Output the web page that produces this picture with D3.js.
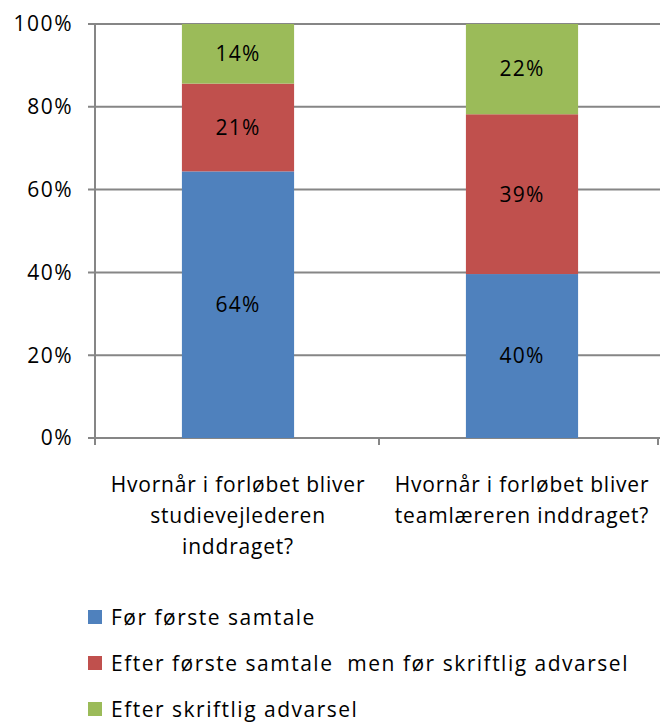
<!DOCTYPE html>
<html>
<head>
<meta charset="utf-8">
<script src="https://cdn.jsdelivr.net/npm/d3@7"></script>
<style>
  body { margin: 0; background: #fff; }
  svg text { font-family: "Open Sans", sans-serif; fill: #000; }
</style>
</head>
<body>
<svg id="chart" width="660" height="725"></svg>
<script>
// chart data
const categories = [
  ['Hvornår i forløbet bliver', 'studievejlederen', 'inddraget?'],
  ['Hvornår i forløbet bliver', 'teamlæreren inddraget?']
];
const seriesNames = ['Før første samtale', 'Efter første samtale  men før skriftlig advarsel', 'Efter skriftlig advarsel'];
const forSamtale = [64.4, 39.6];
const efterSamtale = [21.2, 38.6];
const efterAdvarsel = [14.4, 21.8];
const yTicks = [0, 20, 40, 60, 80, 100];
const colors = ['#4F81BD', '#C0504D', '#9BBB59'];

const svg = d3.select('#chart');
const plotLeft = 95, plotRight = 660, plotTop = 24, plotBottom = 438;
const fontSize = 21;

// the plot area runs a little past the right edge of the picture
const x = d3.scaleBand().domain([0, 1]).range([plotLeft + 1, plotRight + 4]).paddingInner(0).paddingOuter(0);
const y = d3.scaleLinear().domain([0, 100]).range([plotBottom, plotTop]);

// gridlines
svg.append('g').selectAll('line')
  .data(yTicks)
  .enter()
  .append('line')
  .attr('x1', plotLeft - 7)
  .attr('x2', plotRight)
  .attr('y1', d => y(d))
  .attr('y2', d => y(d))
  .attr('stroke', '#868686')
  .attr('stroke-width', 2);

// stacked bars
const rows = [0, 1].map(i => ({i: i, s0: forSamtale[i], s1: efterSamtale[i], s2: efterAdvarsel[i]}));
const stacked = d3.stack().keys(['s0', 's1', 's2'])(rows);
const barW = x.bandwidth() * 0.395;

stacked.forEach(function(layer, k){
  let g = svg.append('g');
  g.selectAll('rect')
    .data(layer)
    .enter()
    .append('rect')
    .attr('x', d => x(d.data.i) + (x.bandwidth() - barW) / 2)
    .attr('width', barW)
    .attr('y', d => y(d[1]))
    .attr('height', d => y(d[0]) - y(d[1]))
    .attr('fill', colors[k]);

  g.selectAll('text')
    .data(layer)
    .enter()
    .append('text')
    .attr('x', d => x(d.data.i) + x.bandwidth() / 2)
    .attr('y', d => (y(d[0]) + y(d[1])) / 2)
    .attr('dy', '0.35em')
    .attr('text-anchor', 'middle')
    .attr('font-size', fontSize)
    .attr('letter-spacing', 1.2)
    .text(d => Math.round(d[1] - d[0]) + '%');
});

// y axis
svg.append('line')
  .attr('x1', plotLeft).attr('x2', plotLeft)
  .attr('y1', plotTop).attr('y2', plotBottom)
  .attr('stroke', '#868686').attr('stroke-width', 2);

svg.append('g').selectAll('text')
  .data(yTicks)
  .enter()
  .append('text')
  .attr('x', 73)
  .attr('y', d => y(d))
  .attr('dy', '0.35em')
  .attr('text-anchor', 'end')
  .attr('font-size', fontSize)
  .attr('letter-spacing', 1.5)
  .text(d => d + '%');

// x axis ticks
const xTicks = [plotLeft, x(1) - 1, plotRight - 2];
svg.append('g').selectAll('line')
  .data(xTicks)
  .enter()
  .append('line')
  .attr('x1', d => d).attr('x2', d => d)
  .attr('y1', plotBottom).attr('y2', plotBottom + 7)
  .attr('stroke', '#868686').attr('stroke-width', 2);

// category labels
categories.forEach(function(lines, i){
  svg.append('text')
    .attr('text-anchor', 'middle')
    .attr('font-size', fontSize)
    .attr('letter-spacing', 0.8)
    .selectAll('tspan')
    .data(lines)
    .enter()
    .append('tspan')
    .attr('x', x(i) + x.bandwidth() / 2)
    .attr('y', (d, j) => 492 + j * 31)
    .text(d => d);
});

// legend
const legend = svg.append('g').selectAll('g')
  .data(seriesNames)
  .enter()
  .append('g')
  .attr('transform', (d, i) => `translate(88, ${625 + i * 46})`);

legend.append('rect')
  .attr('x', 0).attr('y', -15)
  .attr('width', 14).attr('height', 14)
  .attr('fill', (d, i) => colors[i]);

legend.append('text')
  .attr('x', 23)
  .attr('font-size', fontSize)
  .attr('letter-spacing', 1.5)
  .style('white-space', 'pre')
  .text(d => d);
</script>
</body>
</html>
